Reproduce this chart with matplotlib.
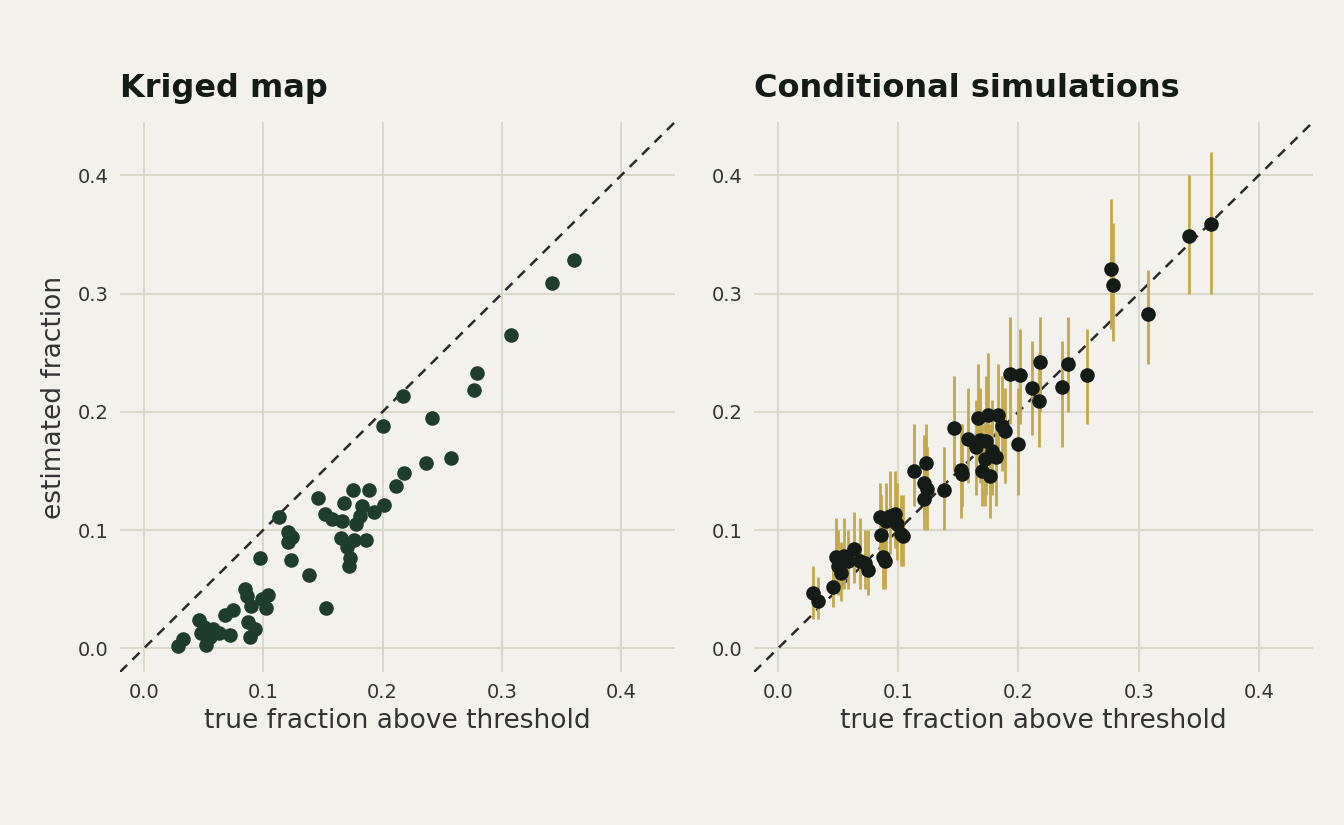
import matplotlib.pyplot as plt
import numpy as np

# true fraction above threshold (shared by both panels)
true_frac = [0.029, 0.033, 0.046, 0.048, 0.050, 0.052, 0.055, 0.058, 0.063, 0.068,
             0.072, 0.075, 0.085, 0.086, 0.087, 0.089, 0.090, 0.093, 0.097, 0.099,
             0.102, 0.104, 0.113, 0.121, 0.121, 0.123, 0.124, 0.138, 0.146, 0.152,
             0.153, 0.158, 0.165, 0.166, 0.168, 0.170, 0.172, 0.173, 0.175, 0.176,
             0.178, 0.181, 0.183, 0.186, 0.189, 0.193, 0.200, 0.201, 0.211, 0.217,
             0.218, 0.236, 0.241, 0.257, 0.277, 0.279, 0.308, 0.342, 0.360]
kriged = [0.002, 0.008, 0.024, 0.013, 0.018, 0.003, 0.010, 0.016, 0.013, 0.028,
          0.011, 0.032, 0.050, 0.044, 0.022, 0.010, 0.036, 0.016, 0.076, 0.042,
          0.034, 0.045, 0.111, 0.098, 0.090, 0.075, 0.094, 0.062, 0.127, 0.114,
          0.034, 0.109, 0.093, 0.108, 0.123, 0.086, 0.070, 0.076, 0.134, 0.092,
          0.105, 0.112, 0.120, 0.092, 0.134, 0.115, 0.188, 0.121, 0.137, 0.213,
          0.148, 0.157, 0.195, 0.161, 0.218, 0.233, 0.265, 0.309, 0.328]
sim_mean = [0.047, 0.040, 0.052, 0.077, 0.070, 0.064, 0.078, 0.074, 0.084, 0.074,
            0.072, 0.066, 0.111, 0.096, 0.077, 0.074, 0.108, 0.112, 0.114, 0.105,
            0.097, 0.095, 0.150, 0.126, 0.140, 0.157, 0.135, 0.134, 0.186, 0.151,
            0.147, 0.177, 0.170, 0.195, 0.176, 0.150, 0.160, 0.175, 0.197, 0.146,
            0.167, 0.162, 0.197, 0.188, 0.184, 0.232, 0.173, 0.231, 0.220, 0.209,
            0.242, 0.221, 0.240, 0.231, 0.321, 0.307, 0.283, 0.349, 0.359]
sim_lo = [0.025, 0.025, 0.035, 0.050, 0.045, 0.040, 0.050, 0.050, 0.055, 0.050,
          0.050, 0.045, 0.080, 0.070, 0.050, 0.050, 0.080, 0.080, 0.085, 0.075,
          0.070, 0.070, 0.120, 0.100, 0.110, 0.120, 0.100, 0.100, 0.150, 0.110,
          0.120, 0.140, 0.130, 0.160, 0.140, 0.120, 0.120, 0.130, 0.160, 0.110,
          0.130, 0.120, 0.160, 0.150, 0.140, 0.190, 0.130, 0.190, 0.180, 0.170,
          0.200, 0.170, 0.200, 0.190, 0.270, 0.260, 0.240, 0.300, 0.300]
sim_hi = [0.070, 0.060, 0.080, 0.110, 0.100, 0.090, 0.110, 0.100, 0.115, 0.110,
          0.100, 0.100, 0.140, 0.130, 0.110, 0.100, 0.140, 0.150, 0.150, 0.140,
          0.130, 0.130, 0.190, 0.160, 0.180, 0.190, 0.170, 0.170, 0.230, 0.190,
          0.190, 0.220, 0.210, 0.240, 0.220, 0.190, 0.200, 0.230, 0.250, 0.190,
          0.210, 0.200, 0.240, 0.230, 0.220, 0.280, 0.220, 0.270, 0.260, 0.250,
          0.280, 0.260, 0.280, 0.270, 0.380, 0.360, 0.320, 0.400, 0.420]
ticks = [0.0, 0.1, 0.2, 0.3, 0.4]

bg = '#f2f1eb'
grid_c = '#d8d6c8'
text_c = '#333333'

fig = plt.figure(figsize=(13.44, 8.25), dpi=100, facecolor=bg)
ax1 = fig.add_axes([120/1344, 1 - 672/825, 555/1344, 550/825])
ax2 = fig.add_axes([754/1344, 1 - 672/825, 559/1344, 550/825])

x = np.array(true_frac)
for ax in (ax1, ax2):
    ax.set_facecolor(bg)
    ax.set_xlim(-0.02, 0.445)
    ax.set_ylim(-0.02, 0.445)
    ax.set_xticks(ticks)
    ax.set_yticks(ticks)
    ax.set_xticklabels([f'{t:.1f}' for t in ticks])
    ax.set_yticklabels([f'{t:.1f}' for t in ticks])
    ax.grid(True, color=grid_c, lw=1.3)
    ax.set_axisbelow(True)
    for s in ax.spines.values():
        s.set_visible(False)
    ax.tick_params(length=0, labelsize=14, labelcolor=text_c, pad=8)
    ax.plot([-0.02, 0.445], [-0.02, 0.445], ls=(0, (4, 3)), color='#2a2a2a', lw=1.8, zorder=2)
    ax.set_xlabel('true fraction above threshold', fontsize=19, color=text_c, labelpad=4)

ax1.scatter(x, kriged, s=110, color='#1f3d2b', zorder=3, linewidths=0)
ax1.set_ylabel('estimated fraction', fontsize=19, color=text_c, labelpad=8)
ax1.set_title('Kriged map', loc='left', fontsize=23, fontweight='bold', color='#141b16', pad=18)

ax2.vlines(x, sim_lo, sim_hi, color='#c4a84a', lw=2, zorder=3)
ax2.scatter(x, sim_mean, s=110, color='#141b16', zorder=4, linewidths=0)
ax2.set_title('Conditional simulations', loc='left', fontsize=23, fontweight='bold', color='#141b16', pad=18)

fig.savefig('out.png', facecolor=bg)
